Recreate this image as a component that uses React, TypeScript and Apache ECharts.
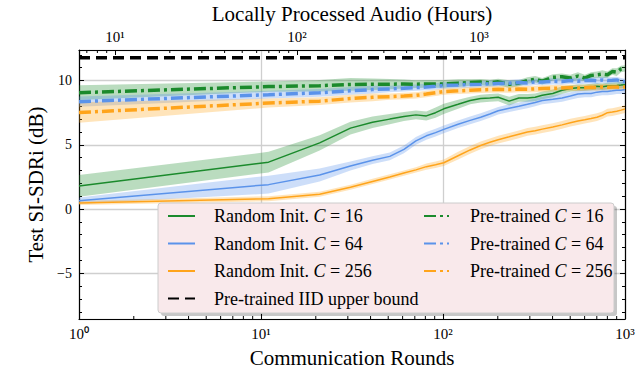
import React, { useEffect, useRef } from "react";
import * as echarts from "echarts";

// ---------- data ----------
const ROUNDS = [1, 11, 21, 31, 41, 51, 61, 71, 81, 91, 101, 121, 141, 161, 181, 201, 231, 261, 291, 321, 351, 401, 451, 501, 551, 601, 651, 701, 751, 801, 851, 901, 951, 1000];

const RAND_16 = [1.8, 3.65, 5.15, 6.3, 6.75, 7.0, 7.2, 7.33, 7.25, 7.5, 7.8, 8.15, 8.45, 8.6, 8.65, 8.7, 8.4, 8.65, 8.65, 8.7, 8.85, 9.0, 9.25, 9.38, 9.45, 9.45, 9.5, 9.55, 9.52, 9.58, 9.6, 9.62, 9.65, 9.68];
const RAND_16_SD = [0.85, 0.8, 0.6, 0.5, 0.45, 0.4, 0.35, 0.35, 0.35, 0.4, 0.4, 0.35, 0.3, 0.3, 0.3, 0.3, 0.35, 0.3, 0.3, 0.3, 0.3, 0.3, 0.3, 0.25, 0.25, 0.25, 0.25, 0.25, 0.25, 0.25, 0.25, 0.25, 0.25, 0.25];

const RAND_64 = [0.64, 1.9, 2.65, 3.35, 3.8, 4.1, 4.65, 5.3, 5.7, 5.95, 6.2, 6.6, 6.9, 7.15, 7.4, 7.65, 7.85, 8.0, 8.15, 8.3, 8.45, 8.55, 8.65, 8.8, 8.95, 9.0, 9.0, 9.1, 9.15, 9.15, 9.2, 9.25, 9.25, 9.3];
const RAND_64_SD = [0.25, 0.7, 0.5, 0.35, 0.3, 0.3, 0.3, 0.3, 0.3, 0.3, 0.3, 0.3, 0.3, 0.3, 0.3, 0.3, 0.3, 0.3, 0.3, 0.3, 0.3, 0.3, 0.3, 0.3, 0.3, 0.3, 0.3, 0.3, 0.3, 0.3, 0.3, 0.3, 0.3, 0.3];

const RAND_256 = [0.47, 0.8, 1.15, 1.7, 2.15, 2.5, 2.8, 3.05, 3.3, 3.45, 3.6, 4.15, 4.6, 4.95, 5.2, 5.4, 5.62, 5.82, 6.0, 6.1, 6.22, 6.38, 6.55, 6.72, 6.85, 6.95, 7.05, 7.15, 7.3, 7.5, 7.55, 7.62, 7.7, 7.78];
const RAND_256_SD = [0.15, 0.2, 0.2, 0.2, 0.2, 0.2, 0.2, 0.2, 0.25, 0.25, 0.25, 0.3, 0.3, 0.3, 0.3, 0.3, 0.3, 0.3, 0.3, 0.3, 0.3, 0.3, 0.3, 0.3, 0.3, 0.3, 0.3, 0.3, 0.3, 0.3, 0.3, 0.3, 0.3, 0.3];

const PRE_16 = [9.06, 9.53, 9.6, 9.7, 9.72, 9.72, 9.73, 9.72, 9.74, 9.74, 9.74, 9.8, 9.85, 9.88, 9.82, 9.9, 9.72, 9.8, 10.0, 10.1, 9.95, 10.25, 10.3, 10.2, 10.35, 10.2, 10.4, 10.45, 10.5, 10.45, 10.7, 10.65, 10.9, 10.95];
const PRE_16_SD = [0.58, 0.4, 0.45, 0.5, 0.45, 0.4, 0.35, 0.3, 0.3, 0.3, 0.3, 0.3, 0.25, 0.25, 0.25, 0.25, 0.3, 0.25, 0.25, 0.25, 0.25, 0.25, 0.25, 0.25, 0.3, 0.25, 0.25, 0.25, 0.3, 0.25, 0.25, 0.3, 0.25, 0.25];

const PRE_64 = [8.36, 8.9, 9.05, 9.2, 9.3, 9.35, 9.4, 9.45, 9.5, 9.55, 9.62, 9.66, 9.7, 9.72, 9.75, 9.78, 9.8, 9.85, 9.82, 9.9, 9.88, 9.95, 9.92, 10.0, 9.95, 10.0, 10.02, 9.98, 10.05, 10.0, 10.02, 10.05, 9.95, 9.9];
const PRE_64_SD = [0.4, 0.3, 0.3, 0.3, 0.3, 0.25, 0.25, 0.25, 0.25, 0.25, 0.25, 0.25, 0.25, 0.25, 0.25, 0.25, 0.25, 0.25, 0.25, 0.25, 0.25, 0.25, 0.25, 0.25, 0.25, 0.25, 0.25, 0.25, 0.25, 0.25, 0.25, 0.25, 0.25, 0.25];

const PRE_256 = [7.51, 8.25, 8.4, 8.6, 8.7, 8.75, 8.8, 8.85, 8.95, 9.05, 9.15, 9.2, 9.25, 9.28, 9.3, 9.32, 9.3, 9.35, 9.32, 9.35, 9.38, 9.4, 9.42, 9.45, 9.42, 9.45, 9.48, 9.46, 9.5, 9.48, 9.5, 9.5, 9.48, 9.5];
const PRE_256_SD = [0.8, 0.35, 0.3, 0.3, 0.3, 0.25, 0.25, 0.25, 0.25, 0.25, 0.25, 0.25, 0.25, 0.25, 0.25, 0.25, 0.25, 0.25, 0.25, 0.25, 0.25, 0.25, 0.25, 0.25, 0.25, 0.25, 0.25, 0.25, 0.25, 0.25, 0.25, 0.25, 0.25, 0.25];

const UPPER_BOUND = 11.78;
const BOUND_X = [1, 1000];

const Y_MIN = -8.56;
const Y_MAX = 12.38;
const X_MIN = 1;
const X_MAX = 1000;
const HOURS_PER_ROUND = 6.34;

const MINOR_ROUNDS = [2, 3, 4, 5, 6, 7, 8, 9, 20, 30, 40, 50, 60, 70, 80, 90, 200, 300, 400, 500, 600, 700, 800, 900];
const MINOR_HOURS = [7, 8, 9, 20, 30, 40, 50, 60, 70, 80, 90, 200, 300, 400, 500, 600, 700, 800, 900, 2000, 3000, 4000, 5000, 6000];

const GREEN = "#1b8a2c";
const BLUE = "#5b93ea";
const ORANGE = "#ffa41b";

const FONT = "Liberation Serif";
const SUP = ["\u2070", "\u00b9", "\u00b2", "\u00b3"];

const TOP_TITLE = "Locally Processed Audio (Hours)";

const NAMES = {
  r16: "Random Init. C = 16",
  r64: "Random Init. C = 64",
  r256: "Random Init. C = 256",
  p16: "Pre-trained C = 16",
  p64: "Pre-trained C = 64",
  p256: "Pre-trained C = 256",
  ub: "Pre-trained IID upper bound",
};

function powLabel(v: number) {
  const e = Math.log10(v);
  const r = Math.round(e);
  if (Math.abs(e - r) > 1e-6) return "";
  return "10" + SUP[r];
}

const makeName = () => ({ fontFamily: FONT, fontSize: 21, color: "#000" });

function bandSeries(mean: number[], sd: number[], color: string) {
  return {
    type: "custom",
    xAxisIndex: 0,
    yAxisIndex: 0,
    silent: true,
    z: 1,
    data: [[ROUNDS[0], mean[0]]],
    renderItem: (params: any, api: any) => {
      const pts: number[][] = [];
      for (let i = 0; i < ROUNDS.length; i++) pts.push(api.coord([ROUNDS[i], mean[i] + sd[i]]));
      for (let i = ROUNDS.length - 1; i >= 0; i--) pts.push(api.coord([ROUNDS[i], mean[i] - sd[i]]));
      return {
        type: "polygon",
        shape: { points: pts },
        style: { fill: color, opacity: 0.3, stroke: "none" },
      };
    },
  };
}

function lineSeries(name: string, ys: number[], color: string, dashed: boolean, z: number) {
  return {
    name,
    type: "line",
    xAxisIndex: 0,
    yAxisIndex: 0,
    symbol: "none",
    z,
    data: ROUNDS.map((r, i) => [r, ys[i]]),
    lineStyle: dashed
      ? { color, width: 3.5, type: [12, 4, 3, 4], cap: "butt" }
      : { color, width: 1.5 },
    itemStyle: { color },
  };
}

function minorTickSeries(values: number[], xAxisIndex: number, atTop: boolean) {
  return {
    type: "custom",
    xAxisIndex,
    yAxisIndex: 0,
    silent: true,
    z: 5,
    data: values.map((v) => [v, atTop ? Y_MAX : Y_MIN]),
    renderItem: (params: any, api: any) => {
      const p = api.coord([api.value(0), atTop ? Y_MAX : Y_MIN]);
      const dy = atTop ? 3 : -3;
      return {
        type: "line",
        shape: { x1: p[0], y1: p[1], x2: p[0], y2: p[1] + dy },
        style: { stroke: "#000", lineWidth: 1 },
      };
    },
  };
}

const legendFormatter = (name: string) => name.replace("C = ", "{i|C} = ");

const legendText = (padLeft: number) => ({
  fontFamily: FONT,
  fontSize: 18,
  color: "#000",
  lineHeight: 18,
  padding: [0, 0, 0, padLeft],
  rich: {
    i: { fontFamily: FONT, fontSize: 18, fontStyle: "italic", color: "#000", lineHeight: 18 },
  },
});

const hiddenSymbol = { color: "rgba(0,0,0,0)", borderColor: "rgba(0,0,0,0)", borderWidth: 0, opacity: 0 };

export default function App() {
  const ref = useRef<HTMLDivElement>(null);
  useEffect(() => {
    if (!ref.current) return;
    const chart = echarts.init(ref.current, undefined, { renderer: "svg" });
    const option: any = {
      animation: false,
      backgroundColor: "#fff",
      title: {
        text: TOP_TITLE,
        left: 352,
        textAlign: "center",
        top: 3,
        padding: 0,
        textStyle: { fontFamily: FONT, fontSize: 21, fontWeight: "normal", color: "#000" },
      },
      grid: { left: 79, right: 17, top: 50, bottom: 54, containLabel: false },
      xAxis: [
        {
          type: "log",
          logBase: 10,
          min: X_MIN,
          max: X_MAX,
          position: "bottom",
          name: "Communication Rounds",
          nameLocation: "middle",
          nameGap: 28,
          nameTextStyle: makeName(),
          axisLine: { show: true, onZero: false, lineStyle: { color: "#000", width: 1.2 } },
          axisTick: { show: true, inside: true, length: 5, lineStyle: { color: "#000", width: 1 } },
          axisLabel: { margin: 7, fontFamily: FONT, fontSize: 15, color: "#000", formatter: powLabel },
          splitLine: { show: true, lineStyle: { color: "#cfcfcf", width: 1.3 } },
        },
        {
          type: "log",
          logBase: 10,
          min: X_MIN * HOURS_PER_ROUND,
          max: X_MAX * HOURS_PER_ROUND,
          position: "top",
          axisLine: { show: true, onZero: false, lineStyle: { color: "#000", width: 1.2 } },
          axisTick: { show: true, inside: true, length: 5, lineStyle: { color: "#000", width: 1 } },
          axisLabel: {
            margin: 6,
            fontFamily: FONT,
            fontSize: 15,
            color: "#000",
            formatter: powLabel,
            showMinLabel: false,
            showMaxLabel: false,
          },
          splitLine: { show: false },
        },
      ],
      yAxis: [
        {
          type: "value",
          min: Y_MIN,
          max: Y_MAX,
          splitNumber: 4,
          position: "left",
          name: "Test SI-SDRi (dB)",
          nameLocation: "middle",
          nameGap: 31,
          nameRotate: 90,
          nameTextStyle: makeName(),
          axisLine: { show: true, onZero: false, lineStyle: { color: "#000", width: 1.2 } },
          axisTick: { show: true, inside: true, length: 5, lineStyle: { color: "#000", width: 1 } },
          minorTick: { show: true, splitNumber: 5, length: 3, lineStyle: { color: "#000", width: 1 } },
          axisLabel: {
            margin: 7,
            fontFamily: FONT,
            fontSize: 14,
            color: "#000",
            showMinLabel: false,
            showMaxLabel: false,
            formatter: (v: number) => (v < 0 ? "\u2212" + Math.abs(v) : String(v)),
          },
          splitLine: { show: true, lineStyle: { color: "#cfcfcf", width: 1.3 } },
        },
        {
          type: "value",
          min: Y_MIN,
          max: Y_MAX,
          splitNumber: 4,
          position: "right",
          axisLine: { show: true, onZero: false, lineStyle: { color: "#000", width: 1.2 } },
          axisTick: { show: true, inside: true, length: 5, lineStyle: { color: "#000", width: 1 } },
          minorTick: { show: true, splitNumber: 5, length: 3, lineStyle: { color: "#000", width: 1 } },
          axisLabel: { show: false },
          splitLine: { show: false },
        },
      ],
      legend: [
        {
          orient: "vertical",
          left: 167,
          top: 207,
          padding: 0,
          itemWidth: 27,
          itemHeight: 14,
          itemGap: 9.5,
          z: 20,
          itemStyle: hiddenSymbol,
          data: [NAMES.r16, NAMES.r64, NAMES.r256, NAMES.ub],
          formatter: legendFormatter,
          textStyle: legendText(14),
          selectedMode: false,
        },
        {
          orient: "vertical",
          left: 423,
          top: 207,
          padding: 0,
          itemWidth: 25,
          itemHeight: 14,
          itemGap: 9.5,
          z: 20,
          itemStyle: hiddenSymbol,
          data: [NAMES.p16, NAMES.p64, NAMES.p256],
          formatter: legendFormatter,
          textStyle: legendText(16),
          selectedMode: false,
        },
      ],
      graphic: [
        {
          type: "rect",
          z: 15,
          silent: true,
          shape: { x: 161, y: 206, width: 456, height: 110, r: 3 },
          style: { fill: "rgba(0,0,0,0.22)" },
        },
        {
          type: "rect",
          z: 16,
          silent: true,
          shape: { x: 158, y: 203, width: 456, height: 110, r: 3 },
          style: { fill: "#f9e9eb", stroke: "#cccccc", lineWidth: 1 },
        },
      ],
      series: [
        bandSeries(RAND_16, RAND_16_SD, GREEN),
        bandSeries(RAND_64, RAND_64_SD, BLUE),
        bandSeries(RAND_256, RAND_256_SD, ORANGE),
        bandSeries(PRE_16, PRE_16_SD, GREEN),
        bandSeries(PRE_64, PRE_64_SD, BLUE),
        bandSeries(PRE_256, PRE_256_SD, ORANGE),
        lineSeries(NAMES.r16, RAND_16, GREEN, false, 3),
        lineSeries(NAMES.r64, RAND_64, BLUE, false, 3),
        lineSeries(NAMES.r256, RAND_256, ORANGE, false, 3),
        lineSeries(NAMES.p16, PRE_16, GREEN, true, 4),
        lineSeries(NAMES.p64, PRE_64, BLUE, true, 4),
        lineSeries(NAMES.p256, PRE_256, ORANGE, true, 4),
        {
          name: NAMES.ub,
          type: "line",
          xAxisIndex: 0,
          yAxisIndex: 0,
          symbol: "none",
          z: 4,
          data: BOUND_X.map((x) => [x, UPPER_BOUND]),
          lineStyle: { color: "#000", width: 3.5, type: [11, 6], cap: "butt" },
          itemStyle: { color: "#000" },
        },
        minorTickSeries(MINOR_ROUNDS, 0, false),
        minorTickSeries(MINOR_HOURS, 1, true),
      ],
    };
    chart.setOption(option);
    return () => chart.dispose();
  }, []);
  return <div ref={ref} style={{ position: "fixed", left: 0, top: 0, width: 642, height: 373 }} />;
}
